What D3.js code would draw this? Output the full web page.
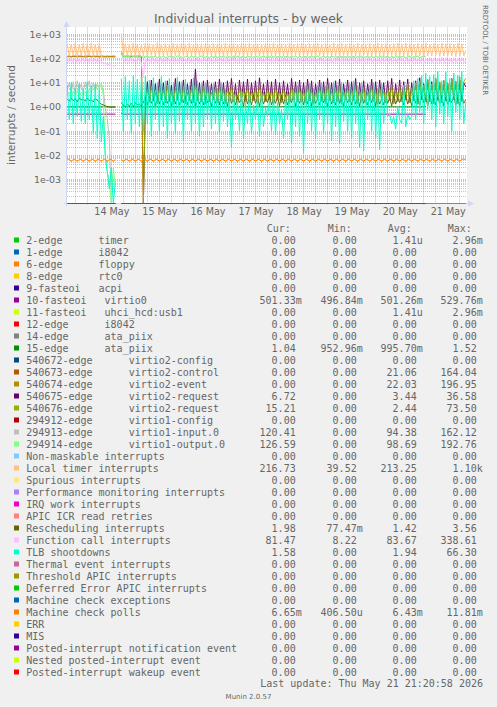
<!DOCTYPE html>
<html><head><meta charset="utf-8">
<script src="https://cdn.jsdelivr.net/npm/d3@7"></script>
<style>
html,body{margin:0;padding:0;background:#F0F0F0;}
svg{display:block;}
text{font-family:"DejaVu Sans",sans-serif;fill:#666;}
.mono{font-family:"DejaVu Sans Mono",monospace;white-space:pre;}
</style></head><body>
<svg id="chart" width="497" height="707"></svg>
<script>
// ---------------- DATA ----------------
const chartTitle = "Individual interrupts - by week";
const yAxisTitle = "interrupts / second";
const lastUpdate = "Last update: Thu May 21 21:20:58 2026";
const dayTicks = ["2026-05-14","2026-05-15","2026-05-16","2026-05-17","2026-05-18","2026-05-19","2026-05-20","2026-05-21"];
const yTickValues = [1e3,1e2,1e1,1e0,1e-1,1e-2,1e-3];
const dataStart = "2026-05-13T14:00:00Z"; // samples every hour

const seriesLabels = [
 "2-edge      timer","1-edge      i8042","6-edge      floppy","8-edge      rtc0","9-fasteoi   acpi",
 "10-fasteoi   virtio0","11-fasteoi   uhci_hcd:usb1","12-edge      i8042","14-edge      ata_piix","15-edge      ata_piix",
 "540672-edge      virtio2-config","540673-edge      virtio2-control","540674-edge      virtio2-event",
 "540675-edge      virtio2-request","540676-edge      virtio2-request","294912-edge      virtio1-config",
 "294913-edge      virtio1-input.0","294914-edge      virtio1-output.0","Non-maskable interrupts",
 "Local timer interrupts","Spurious interrupts","Performance monitoring interrupts","IRQ work interrupts",
 "APIC ICR read retries","Rescheduling interrupts","Function call interrupts","TLB shootdowns",
 "Thermal event interrupts","Threshold APIC interrupts","Deferred Error APIC interrupts",
 "Machine check exceptions","Machine check polls","ERR","MIS","Posted-interrupt notification event",
 "Nested posted-interrupt event","Posted-interrupt wakeup event"];
const seriesColors = ["#00CC00","#0066B3","#FF8000","#FFCC00","#330099","#990099","#CCFF00","#FF0000","#808080","#008F00",
 "#00487D","#B35A00","#B38F00","#6B006B","#8FB300","#B30000","#BEBEBE","#80FF80","#80C9FF","#FFC080",
 "#FFE680","#AA80FF","#EE00CC","#FF8080","#666600","#FFBFFF","#00FFCC","#CC6699","#999900","#00CC00",
 "#0066B3","#FF8000","#FFCC00","#330099","#990099","#CCFF00","#FF0000"];
const curVals = ["0.00","0.00","0.00","0.00","0.00","501.33m","0.00","0.00","0.00","1.04","0.00","0.00","0.00","6.72","15.21","0.00","120.41","126.59","0.00","216.73","0.00","0.00","0.00","0.00","1.98","81.47","1.58","0.00","0.00","0.00","0.00","6.65m","0.00","0.00","0.00","0.00","0.00"];
const minVals = ["0.00","0.00","0.00","0.00","0.00","496.84m","0.00","0.00","0.00","952.96m","0.00","0.00","0.00","0.00","0.00","0.00","0.00","0.00","0.00","39.52","0.00","0.00","0.00","0.00","77.47m","8.22","0.00","0.00","0.00","0.00","0.00","406.50u","0.00","0.00","0.00","0.00","0.00"];
const avgVals = ["1.41u","0.00","0.00","0.00","0.00","501.26m","1.41u","0.00","0.00","995.70m","0.00","21.06","22.03","3.44","2.44","0.00","94.38","98.69","0.00","213.25","0.00","0.00","0.00","0.00","1.42","83.67","1.94","0.00","0.00","0.00","0.00","6.43m","0.00","0.00","0.00","0.00","0.00"];
const maxVals = ["2.96m","0.00","0.00","0.00","0.00","529.76m","2.96m","0.00","0.00","1.52","0.00","164.04","196.95","36.58","73.50","0.00","162.12","192.76","0.00","1.10k","0.00","0.00","0.00","0.00","3.56","338.61","66.30","0.00","0.00","0.00","0.00","11.81m","0.00","0.00","0.00","0.00","0.00"];

// hourly samples (200 per series, null = no data)
const zeroVals = [
0,0,0,0,0,0,0,0,0,0, 0,0,0,0,0,0,0,0,0,0, 0,0,0,0,0,null,null,0,0,0,
0,0,0,0,0,0,0,0,0,0, 0,0,0,0,0,0,0,0,0,0, 0,0,0,0,0,0,0,0,0,0, 0,0,0,0,0,0,0,0,0,0,
0,0,0,0,0,0,0,0,0,0, 0,0,0,0,0,0,0,0,0,0, 0,0,0,0,0,0,0,0,0,0, 0,0,0,0,0,0,0,0,0,0,
0,0,0,0,0,0,0,0,0,0, 0,0,0,0,0,0,0,0,0,0, 0,0,0,0,0,0,0,0,0,0, 0,0,0,0,0,0,0,0,0,0,
0,0,0,0,0,0,0,0,0,0, 0,0,0,0,0,0,0,0,0,0, 0,0,0,0,0,0,0,0,0,0];
const virtio0Vals = [
.5,.5,.5,.5,.5,.5,.5,.5,.5,.5, .5,.5,.5,.5,.5,.5,.5,.5,.5,.5, .5,.5,.5,.5,.5,null,null,.53,.5,.5,
.5,.5,.5,.5,.5,.5,.5,.5,.5,.5, .5,.5,.5,.5,.5,.5,.5,.5,.5,.5, .5,.5,.5,.5,.5,.5,.5,.5,.5,.5, .5,.5,.5,.5,.5,.5,.5,.5,.5,.5,
.5,.5,.5,.5,.5,.5,.5,.5,.5,.5, .5,.5,.5,.5,.5,.5,.5,.5,.5,.5, .5,.5,.5,.5,.5,.5,.5,.5,.5,.5, .5,.5,.5,.5,.5,.5,.5,.5,.5,.5,
.5,.5,.5,.5,.5,.5,.5,.5,.5,.5, .5,.5,.5,.5,.5,.5,.5,.5,.5,.5, .5,.5,.5,.5,.5,.5,.5,.5,.5,.5, .5,.5,.5,.5,.5,.5,.5,.5,.5,.5,
.5,.5,.5,.5,.5,.5,.5,.5,.5,.5, .5,.5,.5,.5,.5,.5,.5,.5,.5,.5, .5,.5,.5,.5,.5,.5,.5,.5,.5,.5];
const ataPiix15Vals = [
1,1,1.01,1,.98,1,1,1.02,1,1, .99,1,1,1.01,1,.98,1,1,1,1.01, 1,1,.99,1,1,null,null,1.52,1.1,1,
1,1.01,1,.99,1,1,1.02,1,1,.98, 1,1,1.01,1,1,.99,1,1.02,1,1, 1,.98,1,1,1.01,1,1,.99,1,1, 1.02,1,1,1,.99,1,1.01,1,1,.98,
1,1,1.01,1,.99,1,1,1.02,1,1, 1,.98,1,1.01,1,1,.99,1,1,1, 1.01,1,1,.98,1,1.02,1,1,.99,1, 1,1,1.01,1,1,.98,1,1,1.02,1,
.99,1,1,1.01,1,1,.98,1,1,1, 1.02,1,.99,1,1,1.01,1,1,.98,1, 1,1.01,1,1,.99,1,1,1.02,1,1, .98,1,1,1.01,1,1,.99,1,1,1,
1.01,1,1,.98,1,1.02,1,1,.99,1, 1,1,1.01,1,1,.98,1,1,1.02,1, .99,1,1,1.01,1,1,.98,1,1,1.04];
const virtio2CtrlVals = [
118,120,116,122,119,117,121,118,120,116, 119,122,117,120,118,121,116,119,120,118, 117,119,121,118,120,null,null,164,120,118,
121,117,119,122,118,120,116,119,0,0,
0,0,0,0,0,0,0,0,0,0, 0,0,0,0,0,0,0,0,0,0, 0,0,0,0,0,0,0,0,0,0, 0,0,0,0,0,0,0,0,0,0,
0,0,0,0,0,0,0,0,0,0, 0,0,0,0,0,0,0,0,0,0, 0,0,0,0,0,0,0,0,0,0, 0,0,0,0,0,0,0,0,0,0,
0,0,0,0,0,0,0,0,0,0, 0,0,0,0,0,0,0,0,0,0, 0,0,0,0,0,0,0,0,0,0, 0,0,0,0,0,0,0,0,0,0,
0,0,0,0,0,0,0,0,0,0, 0,0,0,0,0,0,0,0,0,0, 0,0,0,0,0,0,0,0,0,0, 0,0,0,0,0,0,0,0,0,0];
const virtio2EventVals = [
125,128,122,130,126,124,129,127,123,128, 126,130,124,127,125,129,122,128,126,124, 127,125,123,128,126,null,null,197,126,124,
129,125,127,123,128,126,130,125,0,0,
0,0,0,0,0,0,0,0,0,0, 0,0,0,0,0,0,0,0,0,0, 0,0,0,0,0,0,0,0,0,0, 0,0,0,0,0,0,0,0,0,0,
0,0,0,0,0,0,0,0,0,0, 0,0,0,0,0,0,0,0,0,0, 0,0,0,0,0,0,0,0,0,0, 0,0,0,0,0,0,0,0,0,0,
0,0,0,0,0,0,0,0,0,0, 0,0,0,0,0,0,0,0,0,0, 0,0,0,0,0,0,0,0,0,0, 0,0,0,0,0,0,0,0,0,0,
0,0,0,0,0,0,0,0,0,0, 0,0,0,0,0,0,0,0,0,0, 0,0,0,0,0,0,0,0,0,0, 0,0,0,0,0,0,0,0,0,0];
const virtio2ReqAVals = [
0,0,0,0,0,0,0,0,0,0, 0,0,0,0,0,0,0,0,0,0, 0,0,0,0,0,null,null,0,0,0, 0,0,0,0,0,0,0,0,0,1.5,
11,1.6,13,1.8,9,1.4,14,2,10,1.5, 12,1.7,8,1.3,15,1.9,11,1.6,13,1.4, 9,2,14,1.5,36,1.8,10,1.6,12,1.3,
13,1.7,9,2.1,11,1.5,14,1.8,10,1.4, 12,1.9,15,1.6,9,1.3,13,2,11,1.7, 14,1.5,10,1.8,12,1.4,16,2,9,1.6,
13,1.7,11,1.3,14,1.9,10,1.5,12,1.8, 9,1.4,15,2,11,1.6,13,1.7,10,1.5, 14,1.8,12,1.3,9,2,13,1.6,11,1.4,
15,1.9,10,1.5,12,1.7,14,1.3,9,2, 13,1.6,11,1.8,15,1.4,10,1.7,12,1.5, 9,1.9,14,1.6,11,1.3,13,2,10,1.5,
12,1.8,15,1.4,9,1.7,13,1.6,11,1.9, 14,1.5,10,1.8,12,1.3,16,2,9,1.6, 13,1.7,11,1.4,14,1.9,10,1.5,12,1.8,
9,1.6,15,2,11,1.4,13,1.7,10,6.72];
const virtio2ReqBVals = [
0,0,0,0,0,0,0,0,0,0, 0,0,0,0,0,0,0,0,0,0, 0,0,0,0,0,null,null,0,0,0, 0,0,0,0,0,0,0,0,0,2,
5,1.5,7,1.8,4,1.4,6,2,5,1.6, 8,1.7,4.5,1.3,6,1.9,5,1.5,7,1.4, 4,1.8,6,1.5,9,1.7,5,1.6,7,1.3,
5.5,1.7,4,2,6,1.5,7,1.8,5,1.4, 6,1.9,8,1.6,4,1.3,6.5,2,5,1.7, 7,1.5,4.5,1.8,6,1.4,8,2,4,1.6,
6,1.7,5,1.3,7,1.9,4.5,1.5,6,1.8, 4,1.4,7,2,5,1.6,6,1.7,4.5,1.5, 7,1.8,5,1.3,4,2,6,1.6,5,1.4,
8,1.9,4.5,1.5,6,1.7,7,1.3,4,2, 6,1.6,5,1.8,7,1.4,4.5,1.7,6,1.5, 4,1.9,7,1.6,5,1.3,6,2,4.5,1.5,
6,1.8,8,1.4,5,1.7,7,1.6,6,1.9, 9,1.5,6,1.8,10,1.3,12,2,8,1.6, 14,1.7,9,1.4,16,1.9,11,1.5,13,1.8,
10,1.6,15,2,12,1.4,18,1.7,11,15.2];
const virtio1InVals = [
5,10,4,11,3.5,12,5,9,4,11, 6,12,5,10,4.5,9,6,8,5,1, .3,.05,0,0,0,null,null,162,105,125,
110,122,104,128,108,120,115,126,102,118, 124,106,119,112,127,103,121,109,125,111, 104,126,113,120,107,129,110,118,102,123,
116,105,128,111,122,104,119,126,108,114, 121,103,127,110,118,106,124,112,129,101, 113,125,107,120,104,128,115,109,123,106,
118,126,102,121,111,127,105,116,124,108, 110,129,103,119,114,122,107,125,101,117, 126,104,118,112,128,106,121,109,123,115,
103,120,127,108,116,124,111,105,129,113, 122,106,119,125,102,117,128,110,114,121, 107,123,104,126,112,118,109,127,105,120,
115,102,124,111,128,106,119,113,121,104, 126,110,117,103,125,108,122,114,127,101, 118,124,106,120,112,129,105,116,123,120.41];
const virtio1OutVals = [
3,4,2.5,4.5,3,5,2.8,4,3,4.5, 3.5,5,4,6,5,9,7,10,3,.01, .002,.0008,0,.003,.0005,null,null,192,112,128,
115,124,108,130,111,126,104,121,117,127, 109,125,114,120,129,106,123,112,128,105, 118,126,110,122,107,131,113,119,104,124,
121,108,129,115,125,103,120,128,110,116, 126,105,122,113,130,109,118,124,107,127, 111,120,106,128,114,123,102,125,117,109,
129,112,121,104,126,118,108,124,115,130, 107,122,113,127,103,119,125,110,128,116, 105,123,111,126,120,108,129,114,102,121,
127,106,118,124,112,130,109,117,122,104, 125,113,128,107,121,115,103,126,119,110, 124,108,129,116,105,122,127,111,118,106,
130,114,121,103,125,119,110,128,107,123, 116,104,127,112,120,126,109,118,124,105, 113,129,108,122,117,125,106,121,128,126.59];
const localTimerVals = [
420,125,400,130,440,120,380,135,430,125, 410,128,445,122,390,130,425,120,112,110, 108,110,109,111,110,null,null,1100,130,420,
125,400,135,440,120,410,128,380,130,430, 122,415,135,395,125,450,120,405,130,420, 128,385,122,440,130,410,125,430,135,400,
120,445,128,390,125,420,132,410,122,435, 126,400,130,425,120,415,135,390,128,440, 124,405,130,420,125,395,135,430,122,410,
128,440,120,400,130,415,125,385,135,425, 122,410,130,445,125,400,128,420,132,390, 120,430,126,405,135,415,122,440,130,395,
125,425,128,410,122,435,130,400,126,420, 135,390,120,445,128,405,125,430,132,410, 122,420,130,395,126,440,124,405,135,415,
120,430,128,400,125,445,130,410,122,425, 128,390,135,420,124,435,126,405,130,440, 122,415,132,400,125,430,128,410,120,445,
130,395,126,425,135,405,122,440,128,410, 125,420,130,400,122,435,128,415,130,216.73];
const reschedVals = [
2.1,1.7,2.3,1.8,2.2,1.6,2.4,1.9,2.1,1.7, 2.3,1.8,2,1.6,2.2,1.9,1.5,1.3,1.2,1.1, 1,1,.95,1,.95,null,null,.9,1.2,1,
1.3,1.1,1.4,1,1.5,1.2,1.3,1.1,1.5,2.5, 1.2,2.8,1.4,2.2,1.1,3,1.3,2.4,1.2,2.7, 1.4,2.3,1.1,2.9,1.3,2.5,1.2,2.2,1.5,2.8,
1.2,2.4,1.4,3.2,1.1,2.6,1.3,2.3,1.2,2.9, 1.5,2.2,1.1,2.7,1.4,2.5,1.2,3,1.3,2.4, 1.1,2.8,1.4,2.3,1.2,2.6,1.5,2.2,1.1,2.9,
1.3,2.5,1.2,3.1,1.4,2.4,1.1,2.7,1.3,2.3, 1.5,2.8,1.2,2.2,1.4,2.6,1.1,3,1.3,2.5, 1.2,2.4,1.5,2.9,1.1,2.3,1.4,2.7,1.2,2.6,
1.3,3.2,1.1,2.5,1.4,2.2,1.2,2.8,1.5,2.4, 1.1,2.7,1.3,2.3,1.2,3,1.4,2.5,1.1,2.6, 1.5,2.2,1.2,2.9,1.3,2.4,1.1,2.8,1.4,2.3,
1.2,2.6,1.5,3.1,1.1,2.5,1.3,2.2,1.2,2.7, 1.4,2.4,1.1,2.9,1.3,2.3,1.5,2.6,1.2,3, 1.3,2.5,1.1,2.8,1.4,2.2,1.2,2.7,1.5,2.4,
1.1,3.2,1.3,2.3,1.2,2.6,1.4,2.9,1.1,2.5, 1.3,2.2,1.5,2.8,1.2,2.4,1.1,3,1.4,1.98];
const funcCallVals = [
110,65,105,70,115,62,100,68,112,64, 108,70,104,66,110,63,98,72,70,62, 58,55,52,50,48,null,null,95,110,68,
105,70,112,64,100,72,108,66,16,110, 65,104,70,115,62,100,68,112,64,108, 70,105,66,110,63,98,72,113,65,102,
68,110,62,104,70,115,64,100,68,108, 66,112,70,100,63,106,72,110,65,104, 62,108,70,115,66,98,72,110,64,105,
70,112,63,100,68,108,66,114,62,104, 72,110,65,98,70,112,64,106,68,110, 62,104,70,115,66,100,72,108,64,112,
68,98,70,110,63,105,72,113,65,100, 70,108,62,104,68,115,64,100,72,110, 66,106,70,112,63,98,68,110,64,104,
72,115,65,100,70,108,62,112,68,104, 66,110,70,98,64,106,72,112,65,100, 68,108,62,114,70,104,66,110,63,98,
72,112,65,106,70,100,68,115,64,108, 70,104,62,110,68,100,72,112,66,81.47];
const tlbVals = [
8,.3,10,.2,6,.4,9,.25,5,.2, 11,.3,7,.08,9,.05,6,.035,.4,.008, .002,.0004,.003,0,.0008,null,null,15,.1,18,
.3,12,.08,20,.2,14,.15,17,.1,19, .2,13,.06,16,.3,10,.1,18,.15,12, .05,15,.2,9,.08,17,.25,11,.04,14,
.3,8,.1,16,.2,12,.06,9,.15,10, .3,7,.12,9,.2,6,.08,10,.25,5, .15,3,.02,4,.3,2,.1,5,.05,1.5,
.2,3.5,.08,1.2,.3,2.5,.06,4,.15,.9, .4,2,.1,3,.07,1.5,.2,.8,.05,2.5, .3,4,.03,6,.15,8,.06,5,.012,7,
.2,9,.1,6,.05,8,.3,10,.08,7, .2,9,.04,11,.15,8,.03,10,.25,6, .1,9,.05,12,.2,7,.02,10,.015,5,
.3,8,.1,10,.05,6,.017,9,.2,4, .4,.5,.2,.4,.12,1,.3,.2,8,.15, .5,.3,.4,12,.3,15,.6,20,.2,25,
.8,18,.3,22,.15,30,.5,12,.2,28, .4,15,.1,25,.6,20,.3,30,.2,1.58];
const mcPollVals = [
.0068,.0068,.0054,.0068,.0068,.0054,.0068,.0068,.0054,.0068, .0068,.0054,.0068,.0068,.0054,.0068,.0068,.0054,.0068,.0068, .0054,.0068,.0068,.0054,.0068,null,null,.0068,.0054,.0068,
.0068,.0054,.0068,.0068,.0054,.0068,.0068,.0054,.0068,.0068, .0054,.0068,.0068,.0054,.0068,.0068,.0054,.0068,.0068,.0054, .0068,.0068,.0054,.0068,.0068,.0054,.0068,.0068,.0054,.0068,
.0068,.0054,.0068,.0068,.0054,.0068,.0068,.0054,.0068,.0068, .0054,.0068,.0068,.0054,.0068,.0068,.0054,.0068,.0068,.0054, .0068,.0068,.0054,.0068,.0068,.0054,.0068,.0068,.0054,.0068,
.0068,.0054,.0068,.0068,.0054,.0068,.0068,.0054,.0068,.0068, .0054,.0068,.0068,.0054,.0068,.0068,.0054,.0068,.0068,.0054, .0068,.0068,.0054,.0068,.0068,.0054,.0068,.0068,.0054,.0068,
.0068,.0054,.0068,.0068,.0054,.0068,.0068,.0054,.0068,.0068, .0054,.0068,.0068,.0054,.0068,.0068,.0054,.0068,.0068,.0054, .0068,.0068,.0054,.0068,.0068,.0054,.0068,.0068,.0054,.0068,
.0068,.0054,.0068,.0068,.0054,.0068,.0068,.0054,.0068,.0068, .0054,.0068,.0068,.0054,.0068,.0068,.0054,.0068,.0068,.0054, .0068,.0068,.0054,.0068,.0068,.0054,.0068,.0068,.0054,.0068,
.0068,.0054,.0068,.0068,.0054,.0068,.0068,.0054,.0068,.0068, .0054,.0068,.0068,.0054,.0068,.0068,.0054,.0068,.0068,.00665];

// series index -> hourly values
const seriesData = {5:virtio0Vals, 9:ataPiix15Vals, 11:virtio2CtrlVals, 12:virtio2EventVals, 13:virtio2ReqAVals,
  14:virtio2ReqBVals, 16:virtio1InVals, 17:virtio1OutVals, 19:localTimerVals, 24:reschedVals, 25:funcCallVals,
  26:tlbVals, 31:mcPollVals};

// ---------------- DRAW ----------------
const svg = d3.select("#chart");
const P = {l:67, r:467, t:27.5, b:203.5};
const x = d3.scaleUtc().domain([new Date("2026-05-13T13:52:00Z"), new Date("2026-05-21T21:37:00Z")]).range([P.l, P.r]);
const y = d3.scaleLog().domain([1e-4, 1930]).range([P.b, P.t]);
const crisp = v => Math.round(v - 0.5) + 0.5;

svg.append("rect").attr("x",0).attr("y",0).attr("width",497).attr("height",707).attr("fill","#F0F0F0");
svg.append("rect").attr("x",P.l).attr("y",P.t-0.5).attr("width",P.r-P.l).attr("height",P.b-P.t+0.5).attr("fill","#FFFFFF");

// grid
const grid = svg.append("g");
const minorY = [];
for (let k=-4;k<=3;k++) for (let m=2;m<=9;m++) { const v=m*Math.pow(10,k); if (v<1930) minorY.push(v); }
grid.selectAll(".hmin").data(minorY).join("line")
  .attr("x1",P.l).attr("x2",P.r).attr("y1",d=>crisp(y(d))).attr("y2",d=>crisp(y(d)))
  .attr("stroke","rgba(150,150,150,0.55)").attr("stroke-dasharray","1,1");
const minorX = d3.utcHour.every(6).range(x.domain()[0], x.domain()[1]).filter(d=>d.getUTCHours()!==0);
grid.selectAll(".vmin").data(minorX).join("line")
  .attr("x1",d=>crisp(x(d))).attr("x2",d=>crisp(x(d))).attr("y1",P.t).attr("y2",P.b)
  .attr("stroke","rgba(150,150,150,0.55)").attr("stroke-dasharray","1,1");
const majorY = [1e-3,1e-2,1e-1,1,1e1,1e2,1e3];
grid.selectAll(".hmaj").data(majorY).join("line")
  .attr("x1",P.l).attr("x2",P.r).attr("y1",d=>crisp(y(d))).attr("y2",d=>crisp(y(d)))
  .attr("stroke","rgba(225,90,80,0.5)").attr("stroke-dasharray","1,1");
const majorX = dayTicks.map(s=>new Date(s+"T00:00:00Z"));
grid.selectAll(".vmaj").data(majorX).join("line")
  .attr("x1",d=>crisp(x(d))).attr("x2",d=>crisp(x(d))).attr("y1",P.t).attr("y2",P.b+2)
  .attr("stroke","rgba(225,90,80,0.5)").attr("stroke-dasharray","1,1");

// axes lines
const axisCol = "#CFD6F8";
svg.append("line").attr("x1",P.l-0.5).attr("x2",P.l-0.5).attr("y1",22).attr("y2",P.b+3).attr("stroke",axisCol);
svg.append("line").attr("x1",P.l-3).attr("x2",P.r+3).attr("y1",P.b).attr("y2",P.b).attr("stroke",axisCol);
svg.append("path").attr("d",`M${P.l-3.5},${P.t-0.5}L${P.l+2.5},${P.t-0.5}L${P.l-0.5},${P.t-6.5}Z`).attr("fill",axisCol);
svg.append("path").attr("d",`M${P.r+1},${P.b-3}L${P.r+1},${P.b+3}L${P.r+7},${P.b}Z`).attr("fill",axisCol);

// data lines
svg.append("clipPath").attr("id","clip").append("rect").attr("x",P.l).attr("y",P.t-1).attr("width",P.r-P.l).attr("height",P.b-P.t+1.6);
const t0 = new Date(dataStart).getTime();
const line = d3.line()
  .defined(d=>d.v!==null && d.v!==undefined)
  .x(d=>x(new Date(t0 + d.i*3600e3)))
  .y(d=>d.v>0 ? y(d.v) : P.b);
const plotG = svg.append("g").attr("clip-path","url(#clip)");
seriesLabels.forEach((lab, si) => {
  const vals = seriesData[si] || zeroVals;
  plotG.append("path").datum(vals.map((v,i)=>({i,v})))
    .attr("d", line).attr("fill","none").attr("stroke", seriesColors[si]).attr("stroke-width",1);
});

// axis labels via d3 axes
const fmtExp = v => { const e=Math.round(Math.log10(v)); return "1e"+(e<0?"-":"+")+String(Math.abs(e)).padStart(2,"0"); };
const yAx = svg.append("g").attr("transform",`translate(${P.l-5},0)`)
  .call(d3.axisLeft(y).tickValues(yTickValues).tickFormat(fmtExp).tickSize(0).tickPadding(1));
yAx.select(".domain").remove();
yAx.selectAll("text").attr("font-family","DejaVu Sans").attr("font-size","9.4px").attr("fill","#666");
const noons = dayTicks.map(s=>new Date(s+"T12:00:00Z"));
const xAx = svg.append("g").attr("transform",`translate(0,${P.b+3})`)
  .call(d3.axisBottom(x).tickValues(noons).tickFormat(d3.utcFormat("%d %b")).tickSize(0).tickPadding(2));
xAx.select(".domain").remove();
xAx.selectAll("text").attr("font-family","DejaVu Sans").attr("font-size","9.6px").attr("fill","#666");

// titles
svg.append("text").attr("x",248.5).attr("y",22.5).attr("text-anchor","middle").attr("font-size","12.4px").attr("fill","#555").text(chartTitle);
svg.append("text").attr("transform","translate(15,115) rotate(-90)").attr("text-anchor","middle").attr("font-size","10.6px").text(yAxisTitle);
svg.append("text").attr("transform","translate(483,5) rotate(90)").attr("font-size","7px").attr("fill","#c4c4c4").text("RRDTOOL / TOBI OETIKER");

// legend
const colEnds = [295.7, 356.7, 416.7, 476.7];
const headers = ["Cur:","Min:","Avg:","Max:"];
headers.forEach((h,k)=> svg.append("text").attr("class","mono").attr("x",colEnds[k]-29).attr("y",231.7).attr("font-size","10px").text(h));
const split = s => /[a-zA-Z]$/.test(s) ? [s.slice(0,-1), s.slice(-1)] : [s, ""];
const lg = svg.append("g");
seriesLabels.forEach((lab, i) => {
  const cy = 240 + 12*i;
  lg.append("rect").attr("x",14).attr("y",cy-2.5).attr("width",5).attr("height",5).attr("fill",seriesColors[i]);
  lg.append("text").attr("class","mono").attr("x",26.3).attr("y",cy+3.6).attr("font-size","10px").text(lab);
  [curVals[i],minVals[i],avgVals[i],maxVals[i]].forEach((s,k)=>{
    const [num,suf] = split(s);
    lg.append("text").attr("class","mono").attr("x",colEnds[k]).attr("y",cy+3.6).attr("text-anchor","end").attr("font-size","10px").text(num);
    if (suf) lg.append("text").attr("class","mono").attr("x",colEnds[k]).attr("y",cy+3.6).attr("font-size","10px").text(suf);
  });
});
svg.append("text").attr("class","mono").attr("x",483).attr("y",687.3).attr("text-anchor","end").attr("font-size","10px").text(lastUpdate);
svg.append("text").attr("x",248.5).attr("y",699).attr("text-anchor","middle").attr("font-size","7px").attr("fill","#c4c4c4").text("Munin 2.0.57");
</script>
</body></html>
